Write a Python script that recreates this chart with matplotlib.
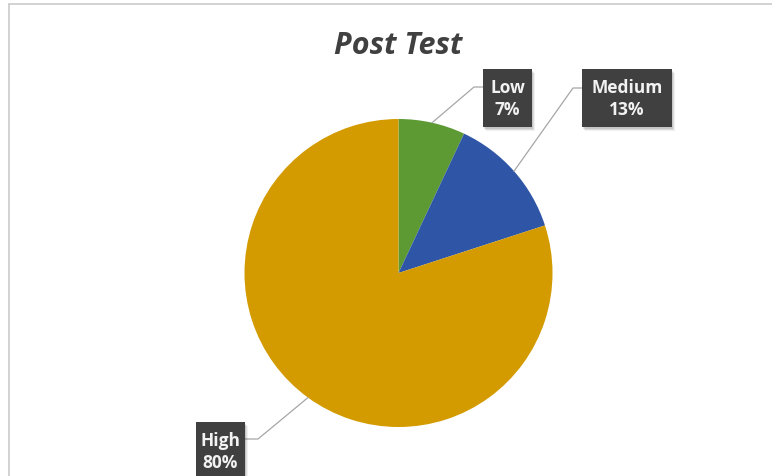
import numpy as np
import matplotlib.pyplot as plt
from matplotlib.patches import Rectangle

labels = ["Low", "Medium", "High"]
shares = [7, 13, 80]
colors = ["#5E9A34", "#2F56A6", "#D39B00"]

W, H = 772, 477
fig = plt.figure(figsize=(W / 100, H / 100), dpi=100)
ax = fig.add_axes([0, 0, 1, 1])

# pie geometry in pixel units (y measured from bottom)
cx, cy, r = 398.5, H - 274, 154

ax.pie(shares, colors=colors, startangle=90, counterclock=False,
       center=(cx, cy), radius=r, wedgeprops=dict(linewidth=0))
ax.set_xlim(0, W)
ax.set_ylim(0, H)
ax.set_aspect("equal")
ax.axis("off")

# thin chart-area frame along top and left
ax.plot([8, W], [H - 5, H - 5], color="#cfcfcf", lw=1.3, solid_capstyle="butt")
ax.plot([9, 9], [H - 5, 0], color="#cfcfcf", lw=1.3, solid_capstyle="butt")

ax.text(cx, H - 46, "Post Test", ha="center", va="center", fontsize=22,
        fontweight="bold", fontstyle="italic", color="#404040",
        family="Open Sans")

# label boxes: (center x, center y in pixels from top, elbow x, elbow y, box edge x)
boxes = [
    (507.5, 99, 474, 88, 483),
    (627, 99, 573, 89, 582),
    (220.5, 452, 258, 440, 245),
]
box_w = [49, 90, 49]
box_h = 58

cum = np.cumsum([0] + shares)
total = float(sum(shares))
for i, (lab, val) in enumerate(zip(labels, shares)):
    mid = (cum[i] + val / 2) / total * 360
    ex = cx + r * np.sin(np.radians(mid))
    ey = cy + r * np.cos(np.radians(mid))
    bx, by, kx, ky, sx = boxes[i]
    ax.plot([ex, kx, sx], [ey, H - ky, H - ky], color="#a6a6a6", lw=0.9,
            zorder=3)
    w = box_w[i]
    # soft drop shadow
    for k, a in enumerate([0.10, 0.08, 0.06]):
        ax.add_patch(Rectangle((bx - w / 2 + 1 + k, H - by - box_h / 2 - 2 - k),
                               w, box_h, facecolor="black", alpha=a,
                               lw=0, zorder=3))
    ax.add_patch(Rectangle((bx - w / 2, H - by - box_h / 2), w, box_h,
                           facecolor="#404040", lw=0, zorder=4))
    ax.text(bx, H - by, f"{lab}\n{val}%", ha="center", va="center",
            fontsize=12.5, fontweight="bold", color="#f2f2f2",
            family="Open Sans", linespacing=1.3, zorder=5)

fig.savefig("out.png", dpi=100)
